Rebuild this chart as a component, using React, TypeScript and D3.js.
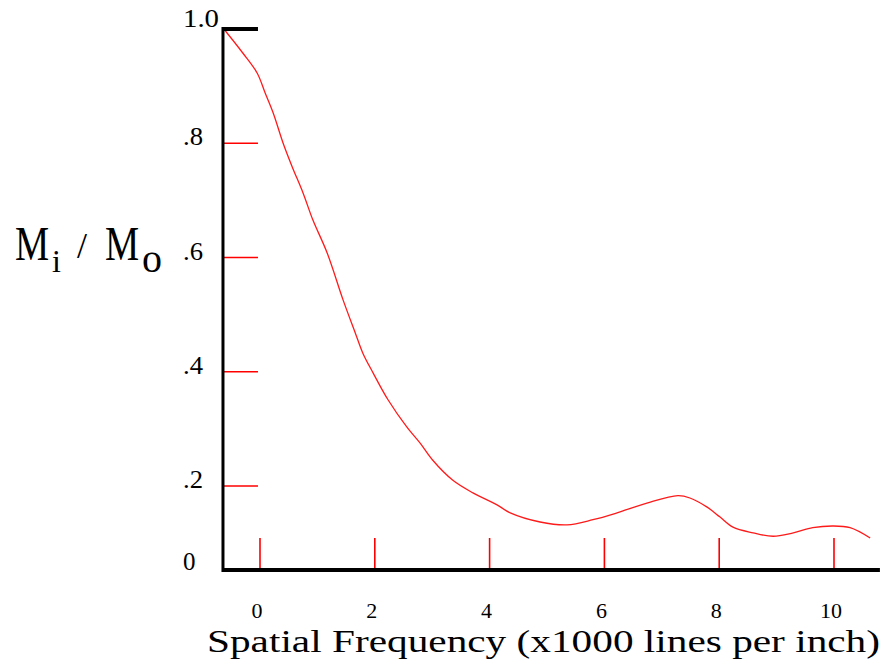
import React from 'react';
import * as d3 from 'd3';

const width = 885;
const height = 666;
const serif = 'Liberation Serif';

// spatial frequency (x1000 lines per inch) and modulation ratio Mi/Mo
const freq = [-0.63, -0.3, -0.05, 0.09, 0.23, 0.4, 0.56, 0.75, 0.92, 1.17, 1.45, 1.66, 1.79, 1.97, 2.23, 2.56, 2.79, 3.01, 3.36, 3.71, 4.13, 4.36, 4.88, 5.35, 5.8, 6.22, 6.74, 7.28, 7.49, 7.79, 8.01, 8.24, 8.59, 8.94, 9.29, 9.63, 9.98, 10.28, 10.63];
const ratio = [1.0, 0.958, 0.923, 0.888, 0.853, 0.801, 0.759, 0.713, 0.666, 0.608, 0.525, 0.468, 0.433, 0.398, 0.351, 0.303, 0.275, 0.245, 0.21, 0.188, 0.167, 0.153, 0.137, 0.132, 0.141, 0.153, 0.17, 0.183, 0.179, 0.163, 0.146, 0.128, 0.118, 0.112, 0.118, 0.127, 0.13, 0.127, 0.109];

const xTicks = [0, 2, 4, 6, 8, 10];
const xTickLabels = ['0', '2', '4', '6', '8', '10'];
const yTicks = [0.2, 0.4, 0.6, 0.8];
const yTickLabels = ['.2', '.4', '.6', '.8'];

const xMin = -0.645;
const xMax = 10.8;
const yFloor = 0.053; // where the horizontal axis sits

export default function App() {
  const x = d3.scaleLinear().domain([0, 10]).range([260, 834]);
  const y = d3.scaleLinear().domain([0, 1]).range([600.25, 29]);

  const pts: [number, number][] = freq.map((f, i) => [f, ratio[i]]);
  const line = d3.line<[number, number]>()
    .x((d) => x(d[0]))
    .y((d) => y(d[1]))
    .curve(d3.curveCatmullRom.alpha(0.5));

  const ax = x(xMin);
  const ay = y(yFloor);
  const tickLen = 35;

  return (
    <svg width={width} height={height} style={{ position: 'absolute', left: 0, top: 0, background: '#fff' }}>
      {/* red ticks */}
      {yTicks.map((t) => (
        <line key={'yt' + t} x1={ax} x2={ax + tickLen} y1={y(t)} y2={y(t)} stroke="#ff0000" strokeWidth={1.4} />
      ))}
      {xTicks.map((t) => (
        <line key={'xt' + t} x1={x(t)} x2={x(t)} y1={ay} y2={ay - 32} stroke="#ff0000" strokeWidth={1.6} />
      ))}

      {/* curve */}
      <path d={line(pts) || ''} fill="none" stroke="#ff1a1a" strokeWidth={1.3} />

      {/* black axes */}
      <line x1={ax} x2={ax} y1={y(1) - 2} y2={ay + 2} stroke="#000" strokeWidth={3} />
      <line x1={ax - 1} x2={x(xMax)} y1={ay} y2={ay} stroke="#000" strokeWidth={4} />
      <line x1={ax} x2={ax + tickLen} y1={y(1)} y2={y(1)} stroke="#000" strokeWidth={4} />

      {/* y tick labels */}
      <g fontFamily={serif} fontSize={25} fill="#000">
        <text x={183} y={y(1) - 2} textLength={36} lengthAdjust="spacingAndGlyphs">1.0</text>
        {yTicks.map((t, i) => (
          <text key={'yl' + t} x={183} y={y(t) + 2} textLength={20} lengthAdjust="spacingAndGlyphs">{yTickLabels[i]}</text>
        ))}
        <text x={183} y={ay}>0</text>
      </g>

      {/* x tick labels */}
      <g fontFamily={serif} fontSize={22} fill="#000" textAnchor="middle">
        {xTicks.map((t, i) => (
          <text key={'xl' + t} x={x(t) - 3} y={618}>{xTickLabels[i]}</text>
        ))}
      </g>

      {/* x axis title */}
      <text x={207} y={652} fontFamily={serif} fontSize={32} textLength={673} lengthAdjust="spacingAndGlyphs" fill="#000">
        Spatial Frequency (x1000 lines per inch)
      </text>

      {/* y axis title: Mi / Mo */}
      <g fontFamily={serif} fill="#000">
        <text transform="translate(15,260) scale(0.8,1)" fontSize={48}>M</text>
        <text x={52} y={272} fontSize={32}>i</text>
        <text x={77} y={258} fontSize={36}>/</text>
        <text transform="translate(105,260) scale(0.8,1)" fontSize={48}>M</text>
        <text x={142} y={272} fontSize={40}>o</text>
      </g>
    </svg>
  );
}
